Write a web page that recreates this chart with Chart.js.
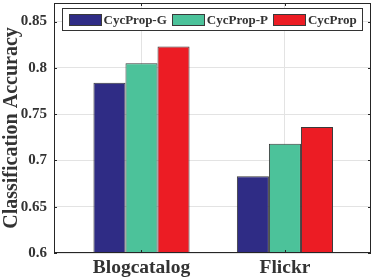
<!DOCTYPE html>
<html>
<head>
<meta charset="utf-8">
<script src="https://cdn.jsdelivr.net/npm/chart.js@4"></script>
<style>
html, body { margin: 0; padding: 0; background: #fff; }
</style>
</head>
<body>
<canvas id="chart" width="374" height="280"></canvas>
<script>
// data
const datasetNames = ['Blogcatalog', 'Flickr'];
const datasetPos = [1, 2];
const methods = ['CycProp-G', 'CycProp-P', 'CycProp'];
const cycPropG = [0.784, 0.683];
const cycPropP = [0.805, 0.718];
const cycProp = [0.823, 0.736];
const yTicks = [0.6, 0.65, 0.7, 0.75, 0.8, 0.85];
const colors = ['#2f2c85', '#4cc29a', '#ec1c24'];

const serif = "'Liberation Serif', 'Times New Roman', serif";
const ink = '#333333';

function toPoints(values) {
    return values.map((v, i) => ({ x: datasetPos[i], y: v }));
}

// MATLAB style box with inward ticks, plus the boxed legend inside the plot
const framePlugin = {
    id: 'frame',
    afterDraw(chart) {
        const ctx = chart.ctx;
        const a = chart.chartArea;
        const xs = chart.scales.x;
        const ys = chart.scales.y;
        ctx.save();
        ctx.strokeStyle = '#262626';
        ctx.lineWidth = 1;
        ctx.strokeRect(Math.round(a.left) + 0.5, Math.round(a.top) + 0.5,
            Math.round(a.right - a.left) - 1, Math.round(a.bottom - a.top) - 1);
        ctx.beginPath();
        yTicks.forEach(t => {
            const py = Math.round(ys.getPixelForValue(t)) + 0.5;
            ctx.moveTo(a.left, py); ctx.lineTo(a.left + 3, py);
            ctx.moveTo(a.right, py); ctx.lineTo(a.right - 3, py);
        });
        datasetPos.forEach(t => {
            const px = Math.round(xs.getPixelForValue(t)) + 0.5;
            ctx.moveTo(px, a.top); ctx.lineTo(px, a.top + 3);
            ctx.moveTo(px, a.bottom); ctx.lineTo(px, a.bottom - 3);
        });
        ctx.stroke();

        // legend
        const sets = chart.data.datasets;
        const swW = 33, swH = 12, gap = 2, itemGap = 5, padX = 6;
        ctx.font = 'bold 13px ' + serif;
        const widths = sets.map(d => ctx.measureText(d.label).width);
        let total = padX * 2 + itemGap * (sets.length - 1);
        widths.forEach(w => { total += swW + gap + w; });
        const boxL = Math.round((a.left + a.right) / 2 - total / 2) + 0.5;
        const boxT = a.top + 5.5;
        const boxH = 22;
        ctx.fillStyle = '#ffffff';
        ctx.fillRect(boxL, boxT, total, boxH);
        ctx.strokeStyle = '#333333';
        ctx.strokeRect(boxL, boxT, Math.round(total), boxH);
        let x = boxL + padX;
        const midY = boxT + boxH / 2;
        sets.forEach((d, i) => {
            ctx.fillStyle = d.backgroundColor;
            ctx.fillRect(Math.round(x), Math.round(midY - swH / 2), swW, swH);
            ctx.strokeStyle = '#3a3a3a';
            ctx.strokeRect(Math.round(x) + 0.5, Math.round(midY - swH / 2) + 0.5, swW - 1, swH - 1);
            x += swW + gap;
            ctx.fillStyle = ink;
            ctx.textBaseline = 'middle';
            ctx.textAlign = 'left';
            ctx.fillText(d.label, x, midY + 1);
            x += widths[i] + itemGap;
        });
        ctx.restore();
    }
};

const ctx = document.getElementById('chart').getContext('2d');
new Chart(ctx, {
    type: 'bar',
    data: {
        datasets: [
            { label: methods[0], data: toPoints(cycPropG), backgroundColor: colors[0] },
            { label: methods[1], data: toPoints(cycPropP), backgroundColor: colors[1] },
            { label: methods[2], data: toPoints(cycProp), backgroundColor: colors[2] }
        ]
    },
    options: {
        responsive: false,
        animation: false,
        layout: { padding: { top: 3, right: 3, left: 0, bottom: 0 } },
        datasets: {
            bar: {
                categoryPercentage: 0.67,
                barPercentage: 1.0,
                borderColor: '#3a3a3a',
                borderWidth: 1,
                borderSkipped: false
            }
        },
        plugins: {
            legend: { display: false },
            tooltip: { enabled: false }
        },
        scales: {
            x: {
                type: 'linear',
                min: 0.39,
                max: 2.6,
                offset: false,
                afterBuildTicks: scale => { scale.ticks = datasetPos.map(v => ({ value: v })); },
                afterFit: scale => {
                    scale.height = 27;
                    scale.paddingLeft = 0;
                    scale.paddingRight = 0;
                },
                ticks: {
                    callback: v => datasetNames[datasetPos.indexOf(v)] || '',
                    color: ink,
                    padding: 3,
                    font: { family: serif, size: 19.5, weight: 'bold' }
                },
                grid: { color: '#e3e3e3', drawTicks: false, offset: false },
                border: { display: false }
            },
            y: {
                min: 0.6,
                max: 0.87,
                afterBuildTicks: scale => { scale.ticks = yTicks.map(v => ({ value: v })); },
                afterFit: scale => {
                    scale.width = 54;
                    scale.paddingTop = 0;
                    scale.paddingBottom = 0;
                },
                ticks: {
                    callback: v => String(+v.toFixed(2)),
                    color: ink,
                    padding: 7,
                    font: { family: serif, size: 15, weight: 'bold' }
                },
                grid: { color: '#e3e3e3', drawTicks: false },
                border: { display: false },
                title: {
                    display: true,
                    text: 'Classification Accuracy',
                    color: ink,
                    padding: { top: 0, bottom: 0 },
                    font: { family: serif, size: 20, weight: 'bold' }
                }
            }
        }
    },
    plugins: [framePlugin]
});
</script>
</body>
</html>
